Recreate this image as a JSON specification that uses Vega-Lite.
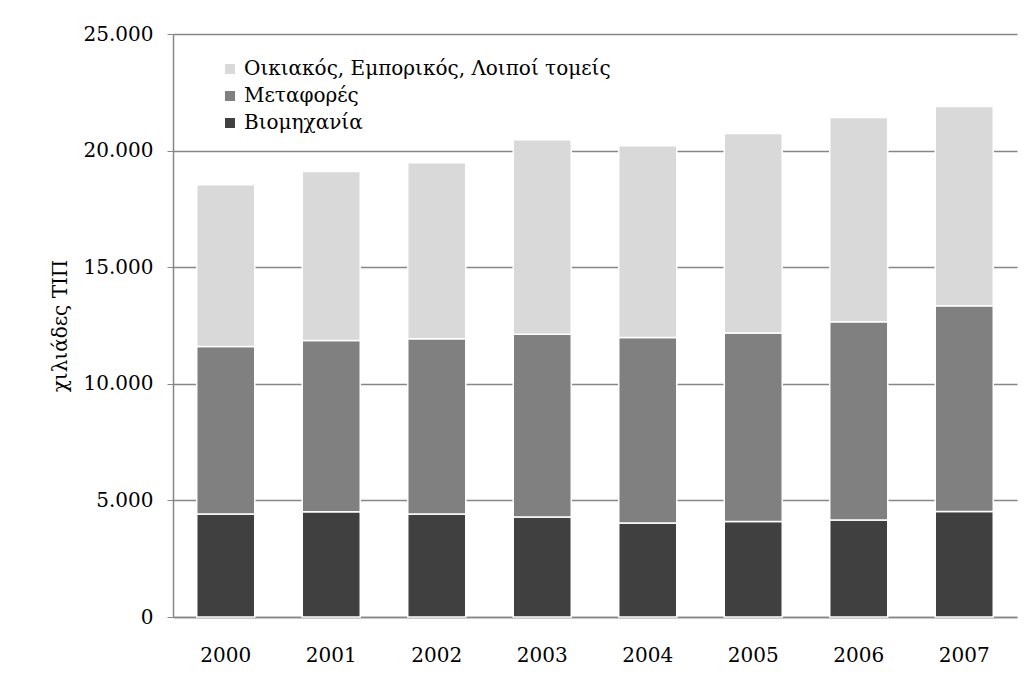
{
  "$schema": "https://vega.github.io/schema/vega-lite/v6.json",
  "autosize": "none",
  "width": 844,
  "height": 583,
  "padding": {"left": 173, "top": 34, "right": 14, "bottom": 73},
  "background": "white",
  "config": {
    "view": {"stroke": null},
    "font": "DejaVu Serif"
  },
  "data": {
    "values": [
      {"year": "2000", "sector": "Βιομηχανία", "value": 4420},
      {"year": "2000", "sector": "Μεταφορές", "value": 7180},
      {"year": "2000", "sector": "Οικιακός, Εμπορικός, Λοιποί τομείς", "value": 6940},
      {"year": "2001", "sector": "Βιομηχανία", "value": 4510},
      {"year": "2001", "sector": "Μεταφορές", "value": 7350},
      {"year": "2001", "sector": "Οικιακός, Εμπορικός, Λοιποί τομείς", "value": 7240},
      {"year": "2002", "sector": "Βιομηχανία", "value": 4420},
      {"year": "2002", "sector": "Μεταφορές", "value": 7510},
      {"year": "2002", "sector": "Οικιακός, Εμπορικός, Λοιποί τομείς", "value": 7550},
      {"year": "2003", "sector": "Βιομηχανία", "value": 4290},
      {"year": "2003", "sector": "Μεταφορές", "value": 7840},
      {"year": "2003", "sector": "Οικιακός, Εμπορικός, Λοιποί τομείς", "value": 8340},
      {"year": "2004", "sector": "Βιομηχανία", "value": 4030},
      {"year": "2004", "sector": "Μεταφορές", "value": 7960},
      {"year": "2004", "sector": "Οικιακός, Εμπορικός, Λοιποί τομείς", "value": 8220},
      {"year": "2005", "sector": "Βιομηχανία", "value": 4090},
      {"year": "2005", "sector": "Μεταφορές", "value": 8090},
      {"year": "2005", "sector": "Οικιακός, Εμπορικός, Λοιποί τομείς", "value": 8550},
      {"year": "2006", "sector": "Βιομηχανία", "value": 4160},
      {"year": "2006", "sector": "Μεταφορές", "value": 8500},
      {"year": "2006", "sector": "Οικιακός, Εμπορικός, Λοιποί τομείς", "value": 8760},
      {"year": "2007", "sector": "Βιομηχανία", "value": 4520},
      {"year": "2007", "sector": "Μεταφορές", "value": 8830},
      {"year": "2007", "sector": "Οικιακός, Εμπορικός, Λοιποί τομείς", "value": 8540}
    ]
  },
  "mark": {"type": "bar", "stroke": "white", "strokeWidth": 1.5},
  "encoding": {
    "x": {
      "field": "year",
      "type": "ordinal",
      "scale": {"paddingInner": 0.45, "paddingOuter": 0.225},
      "axis": {
        "title": null,
        "labelAngle": 0,
        "labelFontSize": 20,
        "labelColor": "black",
        "labelPadding": 28,
        "ticks": false,
        "domainColor": "#868686",
        "domainWidth": 1.5
      }
    },
    "y": {
      "field": "value",
      "type": "quantitative",
      "stack": "zero",
      "scale": {"domain": [0, 25000], "nice": false},
      "axis": {
        "title": "χιλιάδες ΤΙΠ",
        "titleFontSize": 20,
        "titleFontWeight": "normal",
        "titleColor": "black",
        "titlePadding": 13,
        "values": [0, 5000, 10000, 15000, 20000, 25000],
        "labelExpr": "replace(format(datum.value, ','), ',', '.')",
        "labelFontSize": 20,
        "labelColor": "black",
        "labelPadding": 14,
        "tickSize": 6,
        "tickColor": "#868686",
        "domainColor": "#868686",
        "domainWidth": 1.5,
        "grid": true,
        "gridColor": "#868686",
        "gridWidth": 1.5
      }
    },
    "color": {
      "field": "sector",
      "type": "nominal",
      "scale": {
        "domain": ["Οικιακός, Εμπορικός, Λοιποί τομείς", "Μεταφορές", "Βιομηχανία"],
        "range": ["#d9d9d9", "#808080", "#404040"]
      },
      "legend": {
        "title": null,
        "orient": "none",
        "legendX": 47,
        "legendY": 25,
        "symbolType": "square",
        "symbolSize": 100,
        "symbolStrokeWidth": 0,
        "labelFontSize": 20,
        "labelLimit": 0,
        "labelColor": "black",
        "rowPadding": 7,
        "labelOffset": 4
      }
    },
    "order": {"field": "sector", "sort": "ascending"}
  }
}
